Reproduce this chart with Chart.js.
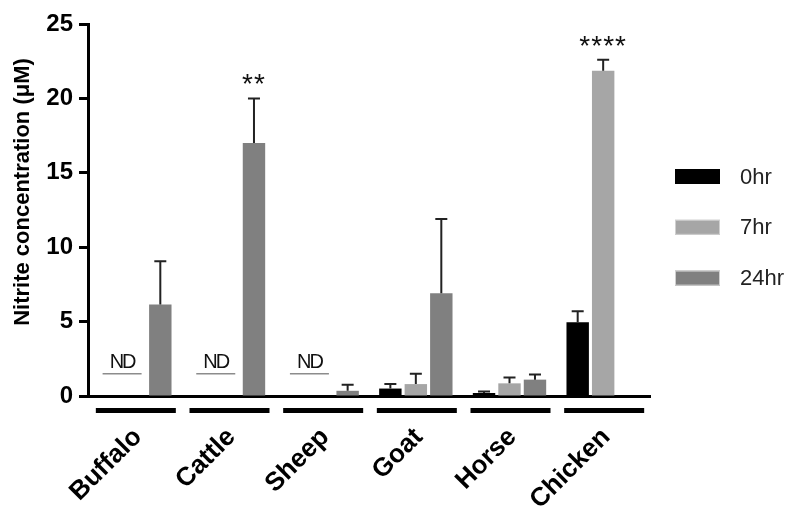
<!DOCTYPE html>
<html>
<head>
<meta charset="utf-8">
<script src="https://cdn.jsdelivr.net/npm/chart.js@4"></script>
<style>
  html, body { margin: 0; padding: 0; background: #fff; }
  #wrap { width: 800px; height: 518px; }
</style>
</head>
<body>
<div id="wrap"><canvas id="nitrite" width="800" height="518"></canvas></div>
<script>
// values (uM), null = not detected / not shown
var categories = ['Buffalo', 'Cattle', 'Sheep', 'Goat', 'Horse', 'Chicken'];
var seriesNames = ['0hr', '7hr', '24hr'];
var hr0 = [null, null, null, 0.5, 0.2, 4.95];
var hr0Err = [null, null, null, 0.3, 0.1, 0.75];
var hr7 = [null, null, null, 0.8, 0.85, 21.85];
var hr7Err = [null, null, null, 0.7, 0.4, 0.75];
var hr24 = [6.15, 17.0, 0.35, 6.9, 1.1, null];
var hr24Err = [2.9, 3.0, 0.4, 5.0, 0.35, null];
var ndLabels = ['ND', 'ND', 'ND', '', '', ''];
var ndLevel = 1.5;
var starLabels = ['', '**', '', '', '', '****'];
var starSeries = [null, 2, null, null, null, 1];
var yTicks = [0, 5, 10, 15, 20, 25];

var errors = [hr0Err, hr7Err, hr24Err];
var colors = ['#000000', '#a6a6a6', '#808080'];
var FONT = '"Liberation Sans", Arial, sans-serif';

// error bars, ND marks, significance stars, group underlines, category labels, legend
var extras = {
  id: 'extras',
  afterDatasetsDraw: function(chart) {
    var ctx = chart.ctx;
    var x = chart.scales.x, y = chart.scales.y;
    ctx.save();
    // error bars (upper only)
    chart.data.datasets.forEach(function(ds, d) {
      var meta = chart.getDatasetMeta(d);
      ds.data.forEach(function(v, i) {
        var e = errors[d][i];
        if (v == null || e == null) return;
        var bx = meta.data[i].x;
        var y0 = y.getPixelForValue(v), y1 = y.getPixelForValue(v + e);
        ctx.strokeStyle = '#222';
        ctx.lineWidth = 2;
        ctx.beginPath();
        ctx.moveTo(bx, y0); ctx.lineTo(bx, y1);
        ctx.moveTo(bx - 6, y1); ctx.lineTo(bx + 6, y1);
        ctx.stroke();
      });
    });
    var step = chart.getDatasetMeta(1).data[0].x - chart.getDatasetMeta(0).data[0].x;
    categories.forEach(function(c, i) {
      var cx = x.getPixelForValue(i);
      // ND
      if (ndLabels[i]) {
        var mx = cx - step / 2;
        var ly = y.getPixelForValue(ndLevel);
        ctx.strokeStyle = '#8c8c8c';
        ctx.lineWidth = 1.5;
        ctx.beginPath();
        ctx.moveTo(mx - 19.5, ly); ctx.lineTo(mx + 19.5, ly);
        ctx.stroke();
        ctx.fillStyle = '#111';
        ctx.font = '20px ' + FONT;
        ctx.letterSpacing = '-2px';
        ctx.textAlign = 'center';
        ctx.textBaseline = 'alphabetic';
        ctx.fillText(ndLabels[i], mx, ly - 6);
        ctx.letterSpacing = '0px';
      }
      // stars
      if (starLabels[i]) {
        var s = starSeries[i];
        var sx = chart.getDatasetMeta(s).data[i].x;
        var top = y.getPixelForValue(chart.data.datasets[s].data[i] + errors[s][i]);
        ctx.fillStyle = '#111';
        ctx.font = '28px ' + FONT;
        ctx.letterSpacing = '1px';
        ctx.textAlign = 'center';
        ctx.textBaseline = 'alphabetic';
        ctx.fillText(starLabels[i], sx, top - 5);
        ctx.letterSpacing = '0px';
      }
      // group underline
      ctx.fillStyle = '#000';
      ctx.fillRect(cx - 39, 408, 80, 5);
      // category label
      ctx.save();
      ctx.translate(cx + 3, 433);
      ctx.rotate(-Math.PI / 4);
      ctx.font = 'bold 26px ' + FONT;
      ctx.fillStyle = '#000';
      ctx.textAlign = 'right';
      ctx.textBaseline = 'middle';
      ctx.fillText(c, 0, 0);
      ctx.restore();
    });
    // y title
    ctx.save();
    ctx.translate(23, 192);
    ctx.rotate(-Math.PI / 2);
    ctx.font = 'bold 22px ' + FONT;
    ctx.fillStyle = '#000';
    ctx.textAlign = 'center';
    ctx.textBaseline = 'middle';
    ctx.fillText('Nitrite concentration (\u03bcM)', 0, 0);
    ctx.restore();
    // legend
    seriesNames.forEach(function(n, k) {
      var ty = 176.5 + k * 50.8;
      ctx.fillStyle = colors[k];
      ctx.fillRect(675, ty - 7.5, 45, 15);
      if (k > 0) {
        ctx.strokeStyle = '#d0d0d0';
        ctx.lineWidth = 1;
        ctx.strokeRect(675.5, ty - 7, 44, 14);
      }
      ctx.fillStyle = '#222';
      ctx.font = '22px ' + FONT;
      ctx.textAlign = 'left';
      ctx.textBaseline = 'middle';
      ctx.fillText(n, 740, ty + 1);
    });
    ctx.restore();
  }
};

var ctx = document.getElementById('nitrite').getContext('2d');
var chart = new Chart(ctx, {
  type: 'bar',
  data: {
    labels: categories,
    datasets: [
      { label: seriesNames[0], data: hr0, backgroundColor: colors[0] },
      { label: seriesNames[1], data: hr7, backgroundColor: colors[1] },
      { label: seriesNames[2], data: hr24, backgroundColor: colors[2] }
    ]
  },
  options: {
    responsive: false,
    animation: false,
    devicePixelRatio: 1,
    categoryPercentage: 0.816,
    barPercentage: 0.88,
    layout: { padding: { top: 24, right: 150, left: 0, bottom: 0 } },
    plugins: { legend: { display: false }, tooltip: { enabled: false } },
    scales: {
      x: {
        grid: { display: false },
        border: { display: true, color: '#000', width: 3 },
        ticks: { display: false },
        afterFit: function(s) { s.height = 122; }
      },
      y: {
        min: 0,
        max: 25,
        afterBuildTicks: function(s) { s.ticks = yTicks.map(function(v) { return { value: v }; }); },
        grid: { drawOnChartArea: false, drawTicks: true, tickLength: 9, tickWidth: 3, tickColor: '#000' },
        border: { display: true, color: '#000', width: 3 },
        ticks: { color: '#000', padding: 6, font: { family: FONT, size: 24, weight: 'bold' } },
        afterFit: function(s) { s.width = 88; }
      }
    }
  },
  plugins: [extras]
});
</script>
</body>
</html>
